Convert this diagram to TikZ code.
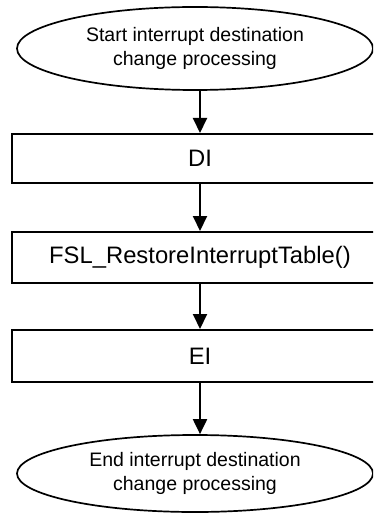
\documentclass[tikz,border=0pt]{standalone}
\usepackage{fontspec}
\setmainfont{Liberation Sans}
\usetikzlibrary{shapes.geometric,arrows.meta}
\tikzset{
  term/.style={ellipse,draw,line width=1.7bp,minimum width=356bp,inner sep=0pt,
    font=\fontsize{19.5bp}{24.5bp}\selectfont,align=center},
  procbox/.style={rectangle,draw,line width=2bp,minimum width=376bp,inner sep=0pt,
    font=\fontsize{23.8bp}{28bp}\selectfont},
  flow/.style={line width=2bp,-{Triangle[width=14bp,length=15bp]}}
}
\begin{document}
\begin{tikzpicture}[x=1bp,y=-1bp]
\useasboundingbox (0,0) rectangle (373,514);
\clip (0,0) rectangle (373,514);
\node[term,minimum height=83bp] (start) at (195,48.5) {Start interrupt destination\\change processing};
\node[procbox,minimum height=49bp] (di) at (200,158.5) {DI};
\node[procbox,minimum height=51bp] (fsl) at (200,257.5) {FSL\_RestoreInterruptTable()};
\node[procbox,minimum height=52bp] (ei) at (200,356) {EI};
\node[term,minimum height=77bp] (end) at (195,473.5) {End interrupt destination\\change processing};
\draw[flow] (start.south -| di.north) -- (di);
\draw[flow] (di) -- (fsl);
\draw[flow] (fsl) -- (ei);
\draw[flow] (ei) -- (ei.south |- end.north);
\end{tikzpicture}
\end{document}
